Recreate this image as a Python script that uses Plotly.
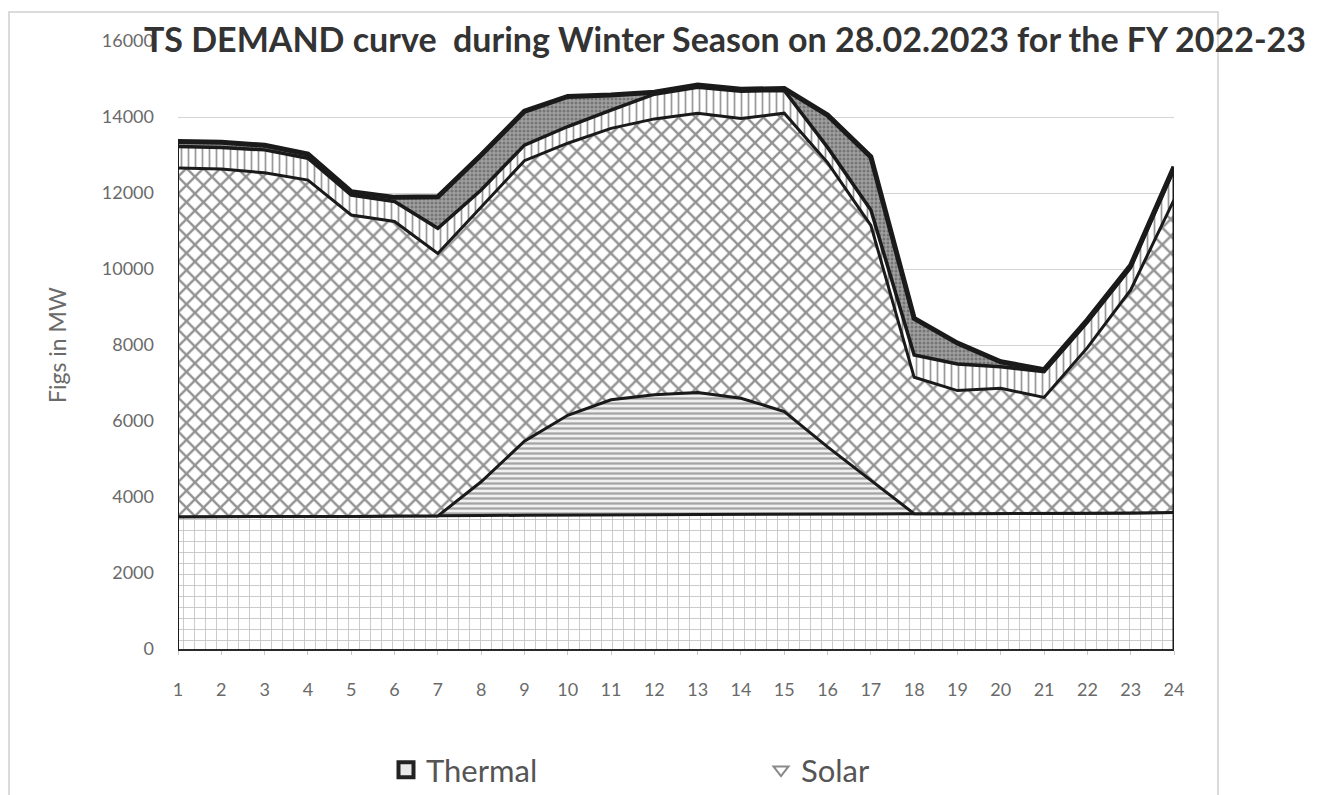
import plotly.graph_objects as go

hours = list(range(1, 25))
hour_labels = [str(h) for h in hours]

# Stacked components (MW)
thermal = [3480, 3480, 3480, 3490, 3490, 3500, 3500, 3510, 3520, 3520, 3530, 3530,
           3540, 3540, 3540, 3550, 3550, 3560, 3560, 3560, 3570, 3570, 3580, 3590]
solar = [0, 0, 0, 0, 0, 0, 0, 890, 1950, 2630, 3030, 3160,
         3210, 3060, 2710, 1770, 890, 0, 0, 0, 0, 0, 0, 0]
hydel = [9180, 9150, 9050, 8850, 7930, 7750, 6910, 7240, 7380, 7160, 7140, 7260,
         7350, 7360, 7850, 7480, 6710, 3590, 3240, 3300, 3050, 4360, 5870, 8230]
nces = [565, 565, 605, 575, 525, 525, 660, 440, 410, 440, 480, 650,
        680, 720, 600, 400, 400, 590, 700, 570, 680, 670, 590, 800]
others = [130, 140, 120, 110, 90, 110, 830, 920, 890, 790, 400, 50,
          60, 50, 50, 850, 1400, 960, 550, 130, 50, 60, 60, 70]

y_ticks = [0, 2000, 4000, 6000, 8000, 10000, 12000, 14000, 16000]
y_tick_labels = ["0", "2000", "4000", "6000", "8000", "10000", "12000", "14000", "16000"]

title_text = "TS DEMAND curve  during Winter Season on 28.02.2023 for the FY 2022-23"
y_title = "Figs in MW"

FONT = "Lato"
LINE = "#1a1a1a"

fig = go.Figure()

series = [
    ("Thermal", thermal, dict(shape="+", fgcolor="#858585", bgcolor="white", size=11, solidity=0.15), 3),
    ("Solar", solar, dict(shape="-", fgcolor="#555555", bgcolor="#f0f0f0", size=5, solidity=0.45), 3),
    ("Hydel", hydel, dict(shape="x", fgcolor="#262626", bgcolor="white", size=12, solidity=0.36), 3),
    ("NCE", nces, dict(shape="|", fgcolor="#333333", bgcolor="white", size=7, solidity=0.25), 3.5),
    ("Others", others, dict(shape=".", fgcolor="#4a4a4a", bgcolor="#a0a0a0", size=4, solidity=0.45), 5),
]

for name, vals, pat, lw in series:
    fig.add_trace(go.Scatter(
        x=hours, y=vals, name=name, mode="lines",
        stackgroup="one",
        line=dict(color=LINE, width=lw),
        fillpattern=pat,
        fillcolor=pat["bgcolor"],
        showlegend=False,
        hoverinfo="x+y+name",
    ))

# legend entries (as in the reference, only Thermal and Solar are visible)
fig.add_trace(go.Scatter(x=[None], y=[None], mode="markers", name="Thermal",
                         marker=dict(symbol="square", size=15, color="#e8e8e8",
                                     line=dict(color="#222222", width=4))))
fig.add_trace(go.Scatter(x=[None], y=[None], mode="markers", name="Solar",
                         marker=dict(symbol="triangle-down-open", size=13, color="#8a8a8a",
                                     line=dict(color="#8a8a8a", width=2))))

totals = [sum(v) for v in zip(thermal, solar, hydel, nces, others)]

# vertical outline edges of the stacked area at first and last hour
fig.add_shape(type="line", xref="x", yref="y", x0=hours[0], x1=hours[0], y0=0, y1=totals[0],
              line=dict(color=LINE, width=2))
fig.add_shape(type="line", xref="x", yref="y", x0=hours[-1], x1=hours[-1], y0=0, y1=totals[-1],
              line=dict(color=LINE, width=3))

# page offset (body margin) and plot area in screenshot pixels
OFF = 8
W, H = 1317 - OFF, 795 - OFF
L, R, T, B = 178, 1174, 41, 649
def px_x(p):
    return (p - L) / (R - L)
def px_y(p):
    return (B - p) / (B - T)

fig.add_shape(type="rect", xref="paper", yref="paper",
              x0=px_x(9), x1=px_x(1218), y0=px_y(800), y1=px_y(12),
              line=dict(color="#d0d0d0", width=1.5), fillcolor="rgba(0,0,0,0)", layer="below")

fig.add_annotation(text=title_text, xref="paper", yref="paper",
                   x=px_x(725), y=px_y(38), xanchor="center", yanchor="middle",
                   showarrow=False, font=dict(family=FONT, size=34, color="#333333", weight="bold"))

fig.add_annotation(text=y_title, xref="paper", yref="paper",
                   x=px_x(57), y=0.5, xanchor="center", yanchor="middle", textangle=-90,
                   showarrow=False, font=dict(family=FONT, size=23, color="#6a6a6a"))

fig.update_layout(
    width=W, height=H, autosize=False,
    margin=dict(l=L - OFF, r=OFF + W - R, t=T - OFF, b=OFF + H - B, pad=0, autoexpand=False),
    paper_bgcolor="white", plot_bgcolor="white",
    font=dict(family=FONT, color="#6a6a6a"),
    showlegend=True,
    legend=dict(orientation="h", x=px_x(386), xanchor="left", y=px_y(770), yanchor="middle",
                entrywidth=330, entrywidthmode="pixels", traceorder="normal",
                font=dict(family=FONT, size=31, color="#555555"), itemwidth=30,
                bgcolor="rgba(0,0,0,0)"),
    xaxis=dict(range=[1, 24], tickvals=hours, ticktext=hour_labels, showgrid=False,
               showline=True, linecolor="#2a2a2a", linewidth=2, zeroline=False,
               ticks="outside", ticklen=4, tickcolor="#c8c8c8",
               tickfont=dict(family=FONT, size=18, color="#6a6a6a"), ticklabelstandoff=19),
    yaxis=dict(range=[0, 16000], tickvals=y_ticks, ticktext=y_tick_labels,
               showgrid=True, gridcolor="#d4d4d4", gridwidth=1,
               zeroline=False, showline=False, ticks="",
               tickfont=dict(family=FONT, size=18, color="#6a6a6a"), ticklabelstandoff=23),
)

fig.write_html("out.html")
